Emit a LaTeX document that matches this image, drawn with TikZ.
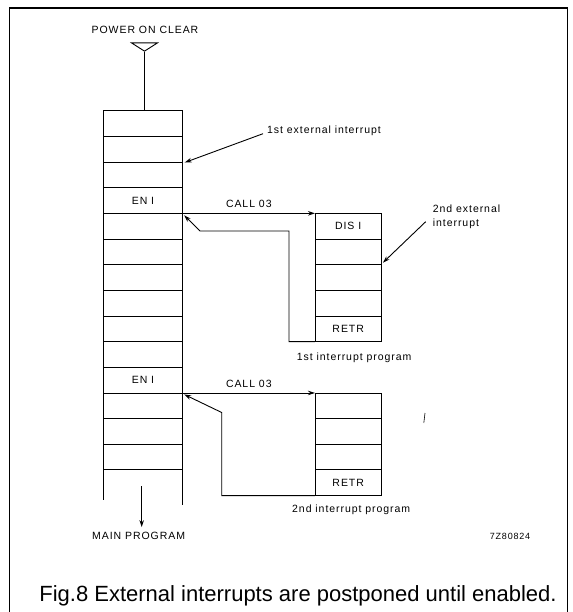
\documentclass[tikz,border=0pt]{standalone}
\usepackage{fontspec}
\setmainfont{Liberation Sans}
\newfontfamily\lbl[LetterSpace=9]{Liberation Sans}
\usetikzlibrary{arrows.meta,calc,shapes.geometric}
\tikzset{
  cell/.style={draw, line width=0.9pt, minimum width=79.4pt, minimum height=25.66pt, inner sep=0pt, outer sep=0pt, font=\lbl\fontsize{10.5}{12}\selectfont},
  scell/.style={draw, line width=0.9pt, minimum width=66.5pt, minimum height=25.66pt, inner sep=0pt, outer sep=0pt, font=\lbl\fontsize{10.5}{12}\selectfont},
  ln/.style={line width=0.9pt},
  arr/.style={line width=0.9pt, -{Stealth[length=7pt,width=4.5pt]}},
  txt/.style={inner sep=0pt, font=\lbl\fontsize{10.5}{12}\selectfont},
}
\begin{document}
\begin{tikzpicture}[x=1pt,y=-1pt]
\useasboundingbox (0,0) rectangle (572,612);
\fill[white] (0,0) rectangle (572,612);
% frame
\draw[line width=1.5pt] (9.5,612) -- (9.5,8) -- (567.5,8) -- (567.5,612);
% power on clear
\node[txt] (poc) at (145,30) {POWER ON CLEAR};
\node[draw, ln, isosceles triangle, shape border rotate=270, isosceles triangle apex angle=115, minimum width=26pt, inner sep=0pt, anchor=apex] (tri) at (144.5,51.7) {};
% main column
\foreach \k in {0,...,13} {
  \node[cell] (m\k) at (143,{110.7+25.66*\k+12.83}) {};
}
\node[txt] at (m3) {EN I};
\node[txt] at (m10) {EN I};
\draw[ln] (tri.apex) -- (m0.north -| tri.apex);
\coordinate (mbl) at ($(m13.south west)+(0,30)$);
\coordinate (mbr) at ($(m13.south east)+(0,35)$);
\draw[ln] (m13.south west) -- (mbl);
\draw[ln] (m13.south east) -- (mbr);
% sub program 1
\foreach \k in {0,...,4} {
  \node[scell] (a\k) at (348.2,{110.7+25.66*(\k+4)+12.83}) {};
}
\node[txt] at (a0) {DIS I};
\node[txt] at (a4) {RETR};
% sub program 2
\foreach \k in {0,...,3} {
  \node[scell] (b\k) at (348.2,{110.7+25.66*(\k+11)+12.83}) {};
}
\node[txt] at (b3) {RETR};
% call arrows
\draw[arr] (m3.south east) -- node[txt, above=5pt] {CALL 03} (a0.north west);
\draw[arr] (m10.south east) -- node[txt, above=5pt] {CALL 03} (b0.north west);
% return 1
\coordinate (r1a) at (289,231);
\coordinate (r1b) at (200,231);
\draw[arr] (a4.south west) -- (a4.south west -| r1a) -- (r1a) -- (r1b) -- ($(m3.south east)+(1.5,2)$);
% return 2
\coordinate (r2a) at (221.7,412.5);
\draw[arr] (b3.south west) -- (b3.south west -| r2a) -- (r2a) -- ($(m10.south east)+(1.5,1.5)$);
% external interrupts
\node[txt, anchor=west] (e1) at (267,130.7) {1st external interrupt};
\draw[arr] ($(e1.west)+(-4,3)$) -- ($(m1.south east)+(2,0.5)$);
\node[txt, anchor=north west, align=left, font=\lbl\fontsize{10.5}{14}\selectfont] (e2) at (432.7,205) {2nd external\\interrupt};
\coordinate (e2s) at (425.7,221.7);
\draw[arr] (e2s) -- ($(a1.south east)+(1.5,-2)$);
% program labels
\node[txt, anchor=west] (p1) at (296.7,358) {1st interrupt program};
\node[txt, anchor=west] (p2) at (292,510) {2nd interrupt program};
% main program
\node[txt, anchor=west] (mp) at (92,536) {MAIN PROGRAM};
\coordinate (mpa) at (141.7,486);
\draw[arr] (mpa) -- ($(mpa |- mp.north)+(0,-5)$);
\node[inner sep=0pt, font=\lbl\fontsize{9}{10}\selectfont] (code) at (510,536) {7Z80824};
% stray mark
\draw[line width=0.6pt] (423.8,423) -- (425,413);
% caption
\node[inner sep=0pt, font=\fontsize{22}{26}\selectfont] (cap) at (298,596) {Fig.8 External interrupts are postponed until enabled.};
\end{tikzpicture}
\end{document}
